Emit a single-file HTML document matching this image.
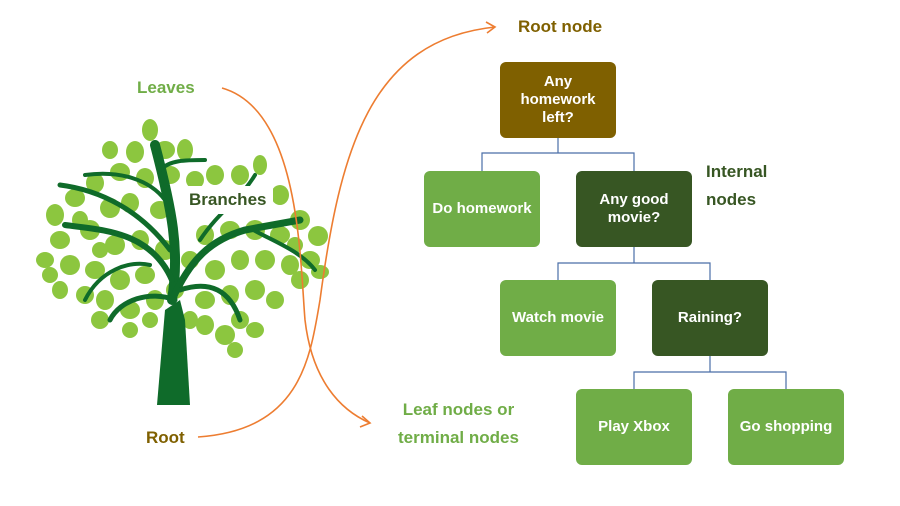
<!DOCTYPE html>
<html><head><meta charset="utf-8"><style>
html,body{margin:0;padding:0;background:#fff;}
body{width:900px;height:506px;overflow:hidden;position:relative;font-family:"Liberation Sans",sans-serif;font-weight:bold;}
.b{position:absolute;width:116px;height:76px;border-radius:6px;color:#fff;display:flex;align-items:center;justify-content:center;text-align:center;font-size:15px;line-height:18px;}
.t{position:absolute;font-size:17px;line-height:28px;}
</style></head><body>
<svg width="900" height="506" style="position:absolute;left:0;top:0">
<g fill="#8cc63f">
<ellipse cx="150" cy="130" rx="8" ry="11"/><ellipse cx="165" cy="150" rx="10" ry="9"/><ellipse cx="135" cy="152" rx="9" ry="11"/>
<ellipse cx="185" cy="150" rx="8" ry="11"/><ellipse cx="120" cy="172" rx="10" ry="9"/><ellipse cx="145" cy="178" rx="9" ry="10"/>
<ellipse cx="170" cy="175" rx="10" ry="9"/><ellipse cx="195" cy="180" rx="9" ry="9"/><ellipse cx="95" cy="183" rx="9" ry="10"/>
<ellipse cx="75" cy="198" rx="10" ry="9"/><ellipse cx="55" cy="215" rx="9" ry="11"/><ellipse cx="60" cy="240" rx="10" ry="9"/>
<ellipse cx="45" cy="260" rx="9" ry="8"/><ellipse cx="70" cy="265" rx="10" ry="10"/><ellipse cx="90" cy="230" rx="10" ry="10"/>
<ellipse cx="110" cy="208" rx="10" ry="10"/><ellipse cx="130" cy="203" rx="9" ry="10"/><ellipse cx="160" cy="210" rx="10" ry="9"/>
<ellipse cx="115" cy="245" rx="10" ry="10"/><ellipse cx="140" cy="240" rx="9" ry="10"/><ellipse cx="165" cy="250" rx="10" ry="10"/>
<ellipse cx="95" cy="270" rx="10" ry="9"/><ellipse cx="120" cy="280" rx="10" ry="10"/><ellipse cx="145" cy="275" rx="10" ry="9"/>
<ellipse cx="105" cy="300" rx="9" ry="10"/><ellipse cx="130" cy="310" rx="10" ry="9"/><ellipse cx="155" cy="300" rx="9" ry="10"/>
<ellipse cx="175" cy="290" rx="9" ry="9"/><ellipse cx="85" cy="295" rx="9" ry="9"/><ellipse cx="60" cy="290" rx="8" ry="9"/>
<ellipse cx="215" cy="175" rx="9" ry="10"/><ellipse cx="240" cy="175" rx="9" ry="10"/><ellipse cx="260" cy="165" rx="7" ry="10"/>
<ellipse cx="280" cy="195" rx="9" ry="10"/><ellipse cx="255" cy="230" rx="10" ry="10"/><ellipse cx="230" cy="230" rx="10" ry="9"/>
<ellipse cx="205" cy="235" rx="9" ry="10"/><ellipse cx="280" cy="235" rx="10" ry="9"/><ellipse cx="300" cy="220" rx="10" ry="10"/>
<ellipse cx="318" cy="236" rx="10" ry="10"/><ellipse cx="310" cy="260" rx="10" ry="9"/><ellipse cx="290" cy="265" rx="9" ry="10"/>
<ellipse cx="265" cy="260" rx="10" ry="10"/><ellipse cx="240" cy="260" rx="9" ry="10"/><ellipse cx="215" cy="270" rx="10" ry="10"/>
<ellipse cx="205" cy="300" rx="10" ry="9"/><ellipse cx="230" cy="295" rx="9" ry="10"/><ellipse cx="255" cy="290" rx="10" ry="10"/>
<ellipse cx="275" cy="300" rx="9" ry="9"/><ellipse cx="240" cy="320" rx="9" ry="9"/><ellipse cx="225" cy="335" rx="10" ry="10"/>
<ellipse cx="205" cy="325" rx="9" ry="10"/><ellipse cx="255" cy="330" rx="9" ry="8"/><ellipse cx="300" cy="280" rx="9" ry="9"/>
<ellipse cx="320" cy="272" rx="9" ry="7"/><ellipse cx="100" cy="320" rx="9" ry="9"/>
<ellipse cx="225" cy="200" rx="9" ry="9"/><ellipse cx="110" cy="150" rx="8" ry="9"/><ellipse cx="80" cy="220" rx="8" ry="9"/>
<ellipse cx="190" cy="260" rx="9" ry="9"/><ellipse cx="190" cy="320" rx="8" ry="9"/><ellipse cx="130" cy="330" rx="8" ry="8"/>
<ellipse cx="265" cy="205" rx="8" ry="9"/><ellipse cx="295" cy="245" rx="8" ry="8"/><ellipse cx="50" cy="275" rx="8" ry="8"/>
<ellipse cx="100" cy="250" rx="8" ry="8"/><ellipse cx="150" cy="320" rx="8" ry="8"/><ellipse cx="235" cy="350" rx="8" ry="8"/>
</g>
<g fill="none" stroke="#0f6b2a" stroke-linecap="round">
<path d="M172 300 C180 250 172 210 155 145" stroke-width="10"/>
<path d="M172 300 C190 260 210 240 245 230 L300 220" stroke-width="7"/>
<path d="M172 280 C150 230 100 230 65 225" stroke-width="6"/>
<path d="M170 250 C140 210 100 190 60 185" stroke-width="5"/>
<path d="M165 200 C150 180 120 170 85 175" stroke-width="4"/>
<path d="M160 170 C170 160 185 160 205 160" stroke-width="4"/>
<path d="M175 300 C150 290 120 300 110 320" stroke-width="5"/>
<path d="M180 290 C210 280 230 290 240 320" stroke-width="5"/>
<path d="M200 240 C220 210 240 200 255 175" stroke-width="4"/>
<path d="M250 228 C270 240 300 250 315 270" stroke-width="4"/>
<path d="M85 300 C100 270 130 260 150 265" stroke-width="4"/>
</g>
<path d="M157 405 L165 310 L180 300 L185 320 L190 405 Z" fill="#0f6b2a"/>
<rect x="185" y="186" width="88" height="28" fill="#fff"/>
<g fill="none" stroke="#ed7d31" stroke-width="1.6">
<path d="M222 88 C300 110 300 260 305 320 C312 380 340 410 370 423"/>
<path d="M362 416 L370 423 L360 427"/>
<path d="M198 437 C300 430 310 360 320 300 C340 150 370 40 495 27"/>
<path d="M486 22 L495 27 L487 33"/>
</g>
<g fill="none" stroke="#4a6ea8" stroke-width="1.2">
<path d="M558 137 V153 M482 171 V153 H634 V171"/>
<path d="M634 247 V263 M558 280 V263 H710 V280"/>
<path d="M710 356 V372 M634 389 V372 H786 V389"/>
</g>
</svg>
<div class="t" style="left:189px;top:186px;color:#375623;">Branches</div>
<div class="t" style="left:137px;top:74px;color:#70ad47;">Leaves</div>
<div class="t" style="left:146px;top:424px;color:#7f6000;">Root</div>
<div class="t" style="left:518px;top:13px;color:#7f6000;">Root node</div>
<div class="t" style="left:706px;top:158px;color:#375623;">Internal<br>nodes</div>
<div class="t" style="left:398px;top:396px;color:#70ad47;text-align:center;">Leaf nodes or<br>terminal nodes</div>
<div class="b" style="left:500px;top:62px;background:#7f6000;">Any<br>homework<br>left?</div>
<div class="b" style="left:424px;top:171px;background:#70ad47;">Do homework</div>
<div class="b" style="left:576px;top:171px;background:#375623;">Any good<br>movie?</div>
<div class="b" style="left:500px;top:280px;background:#70ad47;">Watch movie</div>
<div class="b" style="left:652px;top:280px;background:#375623;">Raining?</div>
<div class="b" style="left:576px;top:389px;background:#70ad47;">Play Xbox</div>
<div class="b" style="left:728px;top:389px;background:#70ad47;">Go shopping</div>
</body></html>
